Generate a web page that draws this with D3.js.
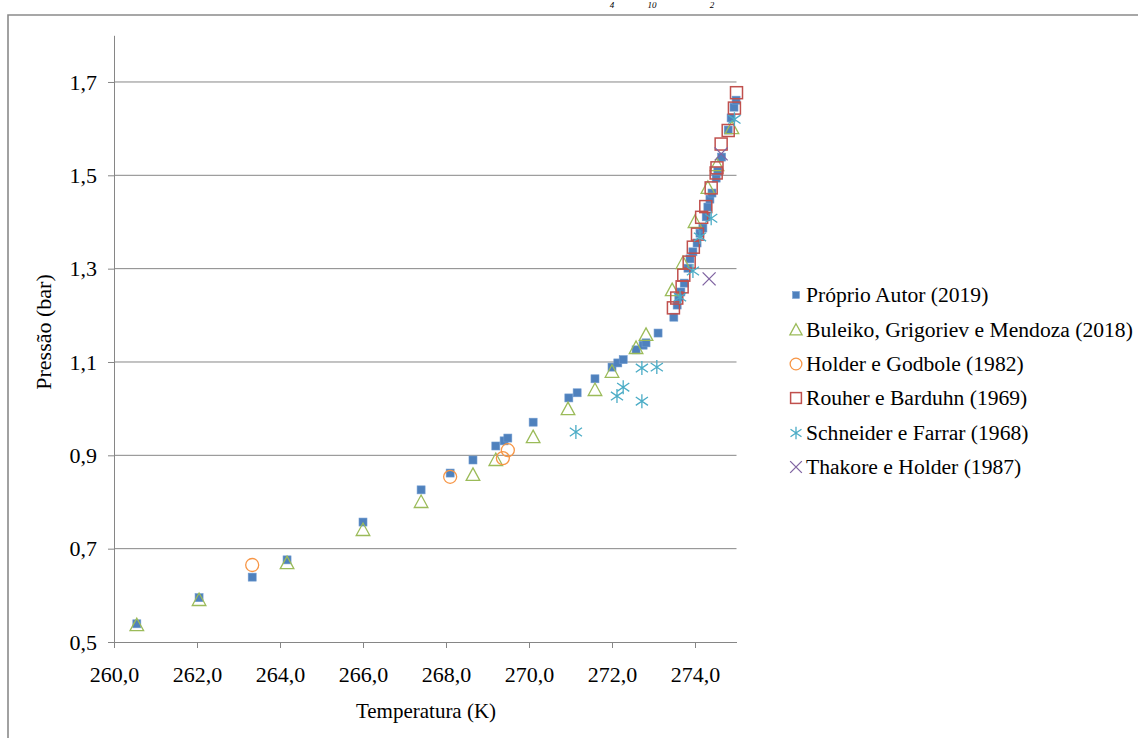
<!DOCTYPE html>
<html>
<head>
<meta charset="utf-8">
<script src="https://cdn.jsdelivr.net/npm/d3@7"></script>
<style>
  html, body { margin: 0; padding: 0; background: #fff; }
  svg { display: block; }
</style>
</head>
<body>
<svg id="chart" width="1138" height="738"></svg>
<script>
// Axis ticks
const xTicks = [260, 262, 264, 266, 268, 270, 272, 274];
const yTicks = [0.5, 0.7, 0.9, 1.1, 1.3, 1.5, 1.7];

// Próprio Autor (2019)
const autorT = [260.55, 262.05, 263.33, 264.17, 266.0, 267.4, 268.1, 268.65, 269.2, 269.4, 269.49,
  270.1, 270.96, 271.16, 271.59, 272.0, 272.14, 272.27, 272.58, 272.75, 272.82, 273.11, 273.49,
  273.57, 273.61, 273.66, 273.74, 273.83, 273.88, 273.95, 274.05, 274.12, 274.19, 274.27, 274.31,
  274.36, 274.41, 274.51, 274.55, 274.64, 274.8, 274.87, 274.94, 274.99];
const autorP = [0.539, 0.595, 0.639, 0.676, 0.757, 0.826, 0.862, 0.890, 0.920, 0.931, 0.937,
  0.971, 1.023, 1.034, 1.064, 1.089, 1.098, 1.105, 1.126, 1.136, 1.141, 1.162, 1.196,
  1.222, 1.239, 1.250, 1.269, 1.301, 1.321, 1.336, 1.355, 1.376, 1.387, 1.411, 1.432,
  1.449, 1.462, 1.494, 1.509, 1.539, 1.597, 1.623, 1.646, 1.661];

// Buleiko, Grigoriev e Mendoza (2018)
const buleikoT = [260.55, 262.05, 264.17, 266.0, 267.4, 268.65, 269.2, 270.1, 270.94, 271.59,
  272.0, 272.58, 272.82, 273.45, 273.71, 274.0, 274.31, 274.53, 274.89];
const buleikoP = [0.536, 0.590, 0.669, 0.740, 0.800, 0.858, 0.890, 0.939, 0.999, 1.040,
  1.079, 1.130, 1.158, 1.254, 1.312, 1.400, 1.473, 1.522, 1.601];

// Holder e Godbole (1982)
const holderT = [263.33, 268.1, 269.37, 269.49];
const holderP = [0.665, 0.854, 0.894, 0.911];

// Rouher e Barduhn (1969)
const rouherT = [273.48, 273.56, 273.69, 273.73, 273.86, 273.96, 274.06, 274.16, 274.26, 274.39,
  274.51, 274.53, 274.63, 274.8, 274.95, 275.0];
const rouherP = [1.216, 1.237, 1.261, 1.286, 1.314, 1.346, 1.374, 1.410, 1.433, 1.473,
  1.505, 1.516, 1.567, 1.596, 1.644, 1.677];

// Schneider e Farrar (1968)
const schneiderT = [271.13, 272.12, 272.27, 272.72, 272.72, 273.08, 273.64, 273.95, 274.12, 274.39, 274.95];
const schneiderP = [0.950, 1.027, 1.046, 1.016, 1.087, 1.089, 1.239, 1.295, 1.368, 1.408, 1.620];

// Thakore e Holder (1987)
const thakoreT = [274.34, 274.63];
const thakoreP = [1.278, 1.546];

const seriesNames = [
  "Próprio Autor (2019)",
  "Buleiko, Grigoriev e Mendoza (2018)",
  "Holder e Godbole (1982)",
  "Rouher e Barduhn (1969)",
  "Schneider e Farrar (1968)",
  "Thakore e Holder (1987)"
];

const zip = (a, b) => a.map((v, i) => [v, b[i]]);
const series = [
  { name: seriesNames[0], data: zip(autorT, autorP), marker: "fsquare", color: "#4F81BD" },
  { name: seriesNames[1], data: zip(buleikoT, buleikoP), marker: "triangle", color: "#9BBB59" },
  { name: seriesNames[2], data: zip(holderT, holderP), marker: "circle", color: "#F79646" },
  { name: seriesNames[3], data: zip(rouherT, rouherP), marker: "square", color: "#C0504D" },
  { name: seriesNames[4], data: zip(schneiderT, schneiderP), marker: "star", color: "#4BACC6" },
  { name: seriesNames[5], data: zip(thakoreT, thakoreP), marker: "cross", color: "#8064A2" }
];

const SERIF = "'Liberation Serif', 'Times New Roman', serif";
const svg = d3.select("#chart");
const axisColor = "#868686";

// Outer frame of the chart area
svg.append("path")
  .attr("d", "M8,738 L8,15 L1138,15")
  .attr("fill", "none").attr("stroke", "#8a8a8a").attr("stroke-width", 1.6);

// Small subscripts of the caption above the frame
const cap = svg.append("g");
[["4", 612], ["10", 652], ["2", 712]].forEach(([t, xx]) => {
  cap.append("text").attr("x", xx).attr("y", 8).attr("text-anchor", "middle")
    .style("font-family", SERIF).style("font-size", "9px").style("font-style", "italic")
    .text(t);
});

const x = d3.scaleLinear().domain([260, 275]).range([114, 736.5]);
const y = d3.scaleLinear().domain([0.5, 1.8]).range([642, 35.3]);
const fmt = d => d3.format(".1f")(d).replace(".", ",");

// Horizontal gridlines
svg.append("g").selectAll("line")
  .data(yTicks.filter(d => d > 0.5))
  .join("line")
  .attr("x1", x(260)).attr("x2", x(275))
  .attr("y1", d => y(d)).attr("y2", d => y(d))
  .attr("stroke", axisColor).attr("stroke-width", 1);

// Y axis
const yAxis = svg.append("g")
  .attr("transform", `translate(${x(260)},0)`)
  .call(d3.axisLeft(y).tickValues(yTicks).tickFormat(fmt).tickSize(6).tickSizeOuter(0));
yAxis.select(".domain").attr("stroke", axisColor);
yAxis.selectAll(".tick line").attr("stroke", axisColor);
yAxis.selectAll(".tick text")
  .style("font-family", SERIF).style("font-size", "22px")
  .attr("x", -17).attr("dy", "0.33em").attr("fill", "#000");

// X axis
const xAxis = svg.append("g")
  .attr("transform", `translate(0,${y(0.5)})`)
  .call(d3.axisBottom(x).tickValues(xTicks).tickFormat(fmt).tickSize(6).tickSizeOuter(0));
xAxis.select(".domain").attr("stroke", axisColor);
xAxis.selectAll(".tick line").attr("stroke", axisColor);
xAxis.selectAll(".tick text")
  .style("font-family", SERIF).style("font-size", "22px")
  .attr("y", 40).attr("dy", 0).attr("fill", "#000");

// Axis titles
svg.append("text").attr("x", 426).attr("y", 718).attr("text-anchor", "middle")
  .style("font-family", SERIF).style("font-size", "21px").text("Temperatura (K)");
svg.append("text").attr("transform", "translate(51,332) rotate(-90)")
  .attr("text-anchor", "middle")
  .style("font-family", SERIF).style("font-size", "22px").text("Pressão (bar)");

// Marker drawing
function drawMarker(g, type, color, s) {
  const k = s || 1;
  switch (type) {
    case "fsquare":
      g.append("rect").attr("x", -4 * k).attr("y", -4 * k).attr("width", 8 * k).attr("height", 8 * k)
        .attr("fill", color).attr("stroke", "#6f9bd0").attr("stroke-width", 0.6);
      break;
    case "triangle":
      g.append("path").attr("d", `M0,${-7 * k}L${6.8 * k},${5.5 * k}L${-6.8 * k},${5.5 * k}Z`)
        .attr("fill", "none").attr("stroke", color).attr("stroke-width", 1.3);
      break;
    case "circle":
      g.append("circle").attr("r", 6.5 * k).attr("fill", "none")
        .attr("stroke", color).attr("stroke-width", 1.3);
      break;
    case "square":
      g.append("rect").attr("x", -6 * k).attr("y", -6 * k).attr("width", 12 * k).attr("height", 12 * k)
        .attr("fill", "none").attr("stroke", color).attr("stroke-width", 1.5);
      break;
    case "star": {
      const r = 7 * k;
      g.append("path")
        .attr("d", `M0,${-r}L0,${r}M${-r * 0.87},${-r * 0.6}L${r * 0.87},${r * 0.6}M${-r * 0.87},${r * 0.6}L${r * 0.87},${-r * 0.6}`)
        .attr("stroke", color).attr("stroke-width", 1.3).attr("fill", "none");
      break;
    }
    case "cross": {
      const r = 6.5 * k;
      g.append("path").attr("d", `M${-r},${-r}L${r},${r}M${-r},${r}L${r},${-r}`)
        .attr("stroke", color).attr("stroke-width", 1.3).attr("fill", "none");
      break;
    }
  }
}

// Scatter points
series.forEach(s => {
  const g = svg.append("g");
  s.data.forEach(d => {
    const m = g.append("g").attr("transform", `translate(${x(d[0])},${y(d[1])})`);
    drawMarker(m, s.marker, s.color);
  });
});

// Legend
const legendY = [295, 330, 364, 398, 433, 467];
const legend = svg.append("g");
series.forEach((s, i) => {
  const row = legend.append("g").attr("transform", `translate(796,${legendY[i]})`);
  const mk = row.append("g");
  drawMarker(mk, s.marker, s.color, s.marker === "fsquare" ? 0.85 : 0.9);
  row.append("text").attr("x", 10).attr("y", 7)
    .style("font-family", SERIF).style("font-size", "21.6px").text(s.name);
});
</script>
</body>
</html>
